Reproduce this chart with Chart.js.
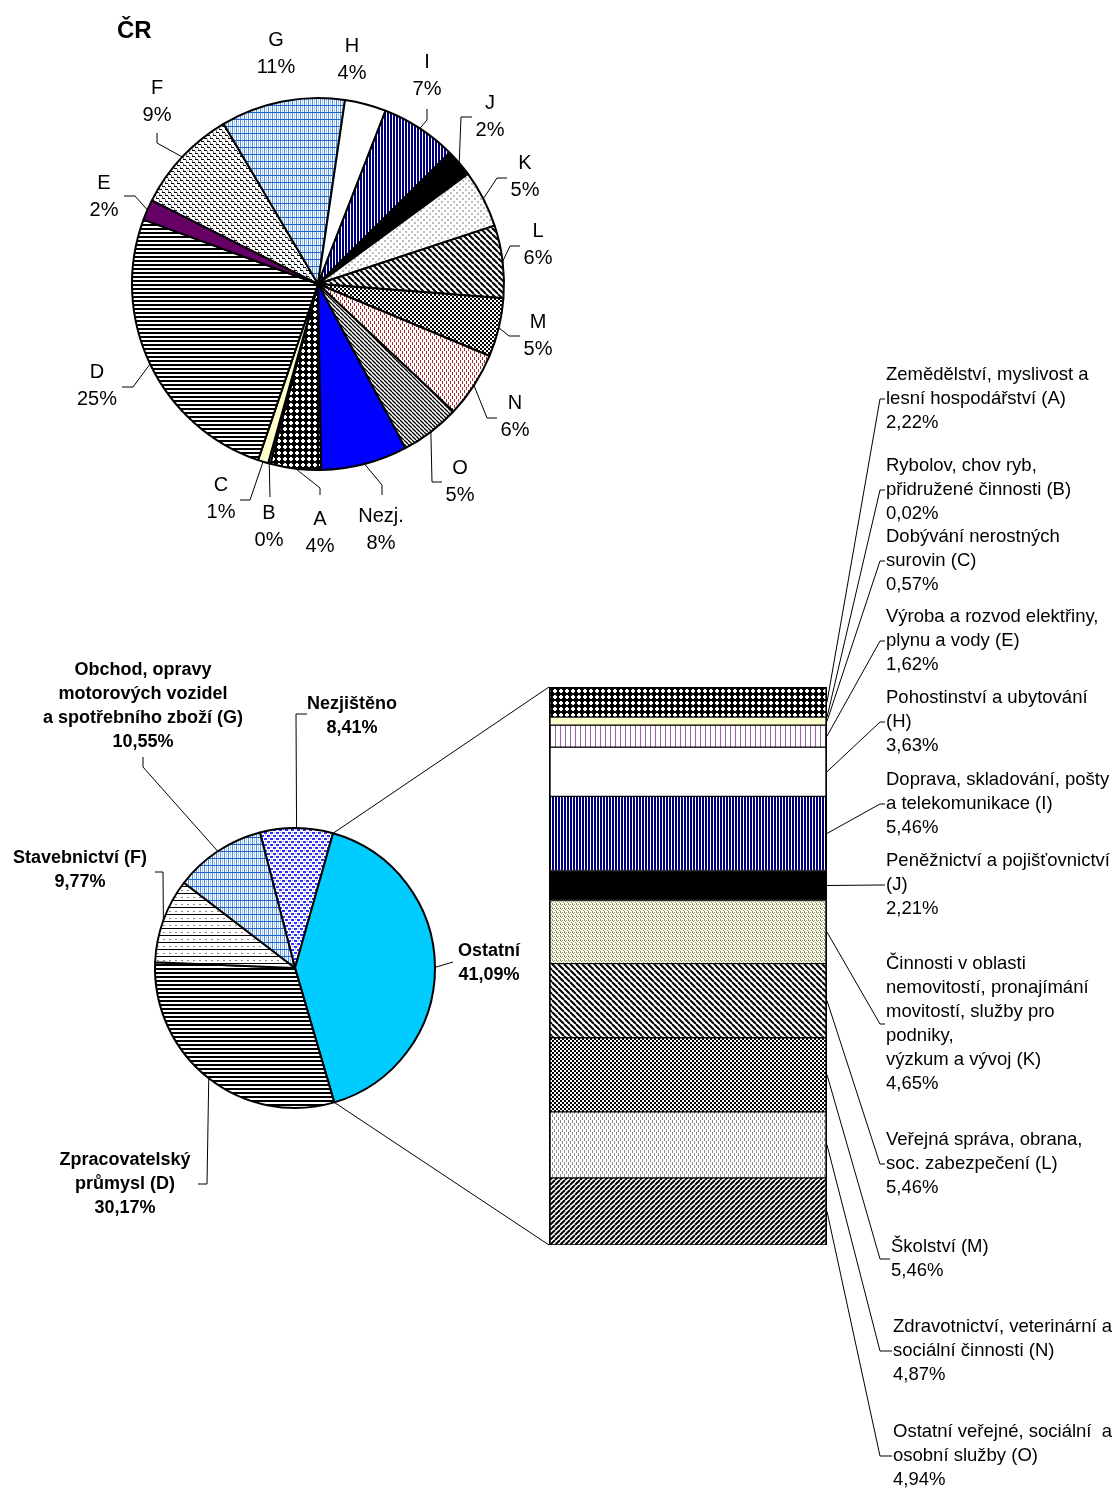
<!DOCTYPE html>
<html>
<head>
<meta charset="utf-8">
<script src="https://cdn.jsdelivr.net/npm/chart.js@4/dist/chart.umd.min.js"></script>
<style>
  body { margin: 0; background: #fff; }
  #wrap { position: relative; width: 1117px; height: 1490px; overflow: hidden; }
  canvas { position: absolute; left: 0; }
</style>
</head>
<body>
<div id="wrap">
  <canvas id="topPie" width="1117" height="600" style="top:0"></canvas>
  <canvas id="bottomPie" width="1117" height="1150" style="top:340px"></canvas>
  <canvas id="bar" width="1117" height="1150" style="top:340px"></canvas>
</div>
<script>
// ---- data ----
const topCats = ['A', 'B', 'C', 'D', 'E', 'F', 'G', 'H', 'I', 'J', 'K', 'L', 'M', 'N', 'O', 'Nezj.'];
const topValues = [4.4, 0.2, 0.9, 25.4, 1.8, 9.1, 10.8, 3.6, 6.6, 2.4, 5.0, 6.3, 5.1, 5.7, 5.2, 7.5];

const pieCats = ['Nezjištěno', 'Ostatní', 'Zpracovatelský průmysl (D)', 'Stavebnictví (F)',
  'Obchod, opravy motorových vozidel a spotřebního zboží (G)'];
const pieLines = [
  ['Nezjištěno'],
  ['Ostatní'],
  ['Zpracovatelský', 'průmysl (D)'],
  ['Stavebnictví (F)'],
  ['Obchod, opravy', 'motorových vozidel', 'a spotřebního zboží (G)']
];
const pieValues = [8.41, 41.09, 30.17, 9.77, 10.55];

const barCats = ['A', 'B', 'C', 'E', 'H', 'I', 'J', 'K', 'L', 'M', 'N', 'O'];
const barValues = [2.22, 0.02, 0.57, 1.62, 3.63, 5.46, 2.21, 4.65, 5.46, 5.46, 4.87, 4.94];
const barLines = [
  ['Zemědělství, myslivost a', 'lesní hospodářství (A)'],
  ['Rybolov, chov ryb,', 'přidružené činnosti (B)'],
  ['Dobývání nerostných', 'surovin (C)'],
  ['Výroba a rozvod elektřiny,', 'plynu a vody (E)'],
  ['Pohostinství a ubytování', '(H)'],
  ['Doprava, skladování, pošty', 'a telekomunikace (I)'],
  ['Peněžnictví a pojišťovnictví', '(J)'],
  ['Činnosti v oblasti', 'nemovitostí, pronajímání', 'movitostí, služby pro', 'podniky,', 'výzkum a vývoj (K)'],
  ['Veřejná správa, obrana,', 'soc. zabezpečení (L)'],
  ['Školství (M)'],
  ['Zdravotnictví, veterinární a', 'sociální činnosti (N)'],
  ['Ostatní veřejné, sociální  a', 'osobní služby (O)']
];

// ---- patterns ----
function pattern(w, h, bg, draw) {
  const c = document.createElement('canvas');
  c.width = w; c.height = h;
  const g = c.getContext('2d');
  g.fillStyle = bg;
  g.fillRect(0, 0, w, h);
  if (draw) draw(g);
  return g.createPattern(c, 'repeat');
}
function diag(g, size, width, color, down) {
  g.strokeStyle = color;
  g.lineWidth = width;
  g.beginPath();
  for (let k = -size; k <= size; k += size) {
    if (down) { g.moveTo(k, 0); g.lineTo(k + size, size); }
    else { g.moveTo(k, size); g.lineTo(k + size, 0); }
  }
  g.stroke();
}
const P = {
  whiteDots: pattern(6, 6, '#000', g => { g.fillStyle = '#fff'; g.fillRect(1, 2, 4, 2); g.fillRect(2, 1, 2, 4); }),
  hLines: pattern(1, 4, '#fff', g => { g.fillStyle = '#000'; g.fillRect(0, 0, 1, 2); }),
  brick: pattern(6, 6, '#fff', g => {
    g.fillStyle = '#000'; g.fillRect(0, 0, 3, 1); g.fillRect(3, 3, 3, 1);
    g.fillStyle = '#777'; g.fillRect(3, 1, 1, 2); g.fillRect(0, 4, 1, 2);
  }),
  blueGrid: pattern(4, 7, '#fff', g => {
    g.fillStyle = '#a9cbf3'; g.fillRect(2, 0, 1, 7);
    g.fillStyle = '#4f8fe3'; g.fillRect(0, 0, 1, 7);
    g.fillStyle = '#1e63c9'; g.fillRect(0, 0, 4, 1);
  }),
  navyV: pattern(3, 1, '#fff', g => { g.fillStyle = '#00007f'; g.fillRect(0, 0, 2, 1); }),
  greyLattice: pattern(6, 6, '#fff', g => { g.fillStyle = '#bdbdbd'; g.fillRect(0, 0, 2, 2); g.fillRect(3, 3, 2, 2); }),
  oliveLattice: pattern(4, 4, '#fffff0', g => {
    g.fillStyle = '#8f8f62';
    g.fillRect(0, 0, 1, 1); g.fillRect(2, 0, 1, 1); g.fillRect(1, 1, 1, 1);
    g.fillRect(3, 2, 1, 1); g.fillRect(0, 3, 1, 1);
  }),
  diagDown: pattern(6, 6, '#fff', g => diag(g, 6, 2, '#000', true)),
  diagDownFine: pattern(4, 4, '#fff', g => diag(g, 4, 1.3, '#000', true)),
  diagUp: pattern(5, 5, '#fff', g => diag(g, 5, 2, '#000', false)),
  checker: pattern(4, 4, '#fff', g => { g.fillStyle = '#000'; g.fillRect(0, 0, 2, 2); g.fillRect(2, 2, 2, 2); }),
  redDash: pattern(4, 6, '#fff', g => { g.fillStyle = '#a52a2a'; g.fillRect(0, 0, 1, 3); g.fillRect(2, 3, 1, 3); }),
  greyDash: pattern(4, 6, '#fff', g => { g.fillStyle = '#8a8a8a'; g.fillRect(0, 0, 1, 3); g.fillRect(2, 3, 1, 3); }),
  purpleV: pattern(5, 1, '#fff', g => { g.fillStyle = '#9a66a8'; g.fillRect(0, 0, 1, 1); }),
  blueDash: pattern(6, 6, '#fff', g => {
    g.fillStyle = '#2f2ff5'; g.fillRect(0, 0, 3, 2); g.fillRect(3, 3, 3, 2);
    g.fillStyle = '#8d8dff'; g.fillRect(4, 0, 1, 1); g.fillRect(1, 3, 1, 1);
  }),
  dotLines: pattern(6, 7, '#fff', g => { g.fillStyle = '#000'; g.fillRect(0, 0, 6, 1); g.fillStyle = '#888'; g.fillRect(1, 4, 2, 1); })
};

const topFills = [P.whiteDots, '#ccffff', '#ffffcc', P.hLines, '#660066', P.brick, P.blueGrid, '#ffffff',
  P.navyV, '#000000', P.greyLattice, P.diagDown, P.checker, P.redDash, P.diagDownFine, '#0000ff'];
const pieFills = [P.blueDash, '#00ccff', P.hLines, P.dotLines, P.blueGrid];
const barFills = [P.whiteDots, '#ccffff', '#ffffcc', P.purpleV, '#ffffff', P.navyV, '#000000',
  P.oliveLattice, P.diagDown, P.checker, P.greyDash, P.diagUp];

// ---- label layout ----
const FONT = '"Liberation Sans", Arial, sans-serif';
const topLabelPos = {
  'A': { x: 320, y: 519, lead: [[320, 495], [320, 488]] },
  'B': { x: 269, y: 513, lead: [[270, 497]] },
  'C': { x: 221, y: 485, lead: [[240, 500], [250, 500]] },
  'D': { x: 97, y: 372, lead: [[122, 387], [133, 387]] },
  'E': { x: 104, y: 183, lead: [[124, 196], [135, 196]] },
  'F': { x: 157, y: 88, lead: [[157, 133], [157, 143]] },
  'G': { x: 276, y: 40 },
  'H': { x: 352, y: 46 },
  'I': { x: 427, y: 62, lead: [[427, 109], [427, 120]] },
  'J': { x: 490, y: 103, lead: [[472, 117], [461, 117]] },
  'K': { x: 525, y: 163, lead: [[507, 178], [497, 178]] },
  'L': { x: 538, y: 231, lead: [[520, 246], [510, 246]] },
  'M': { x: 538, y: 322, lead: [[520, 336], [509, 336]] },
  'N': { x: 515, y: 403, lead: [[497, 418], [487, 418]] },
  'O': { x: 460, y: 468, lead: [[442, 482], [432, 482]] },
  'Nezj.': { x: 381, y: 516, lead: [[382, 495], [382, 485]] }
};
// bottom section, page coordinates
const pieLabelPos = [
  { x: 352, y: 704, lead: [[307, 714], [296, 714]] },
  { x: 489, y: 951, lead: [[453, 962]] },
  { x: 125, y: 1160, lead: [[198, 1184], [207, 1184]] },
  { x: 80, y: 858, lead: [[155, 872], [163, 872]] },
  { x: 143, y: 670, lead: [[143, 757], [143, 767]] }
];
const barLabelPos = [
  { x: 886, y: 375, tick: 1 }, { x: 886, y: 466, tick: 1 }, { x: 886, y: 537, tick: 1 },
  { x: 886, y: 617, tick: 1 }, { x: 886, y: 698, tick: 1 }, { x: 886, y: 780, tick: 1 },
  { x: 886, y: 861, tick: 1 }, { x: 886, y: 964, tick: 2.5 }, { x: 886, y: 1140, tick: 1 },
  { x: 891, y: 1247, tick: 0.5 }, { x: 893, y: 1327, tick: 1 }, { x: 893, y: 1432, tick: 1 }
];
const BOTTOM_TOP = 340;

function czPct(v) { return v.toFixed(2).replace('.', ',') + '%'; }

function textBlock(ctx, lines, x, y, lh, font, align) {
  ctx.save();
  ctx.font = font;
  ctx.fillStyle = '#000';
  ctx.textAlign = align || 'center';
  ctx.textBaseline = 'middle';
  lines.forEach((t, i) => ctx.fillText(t, x, y + i * lh));
  ctx.restore();
}
function polyline(ctx, pts) {
  ctx.save();
  ctx.strokeStyle = '#000';
  ctx.lineWidth = 1;
  ctx.beginPath();
  pts.forEach((p, i) => i ? ctx.lineTo(p[0], p[1]) : ctx.moveTo(p[0], p[1]));
  ctx.stroke();
  ctx.restore();
}
function edgePoint(arc, angle) {
  const p = arc.getProps(['x', 'y', 'startAngle', 'endAngle', 'outerRadius'], true);
  const a = angle === undefined ? (p.startAngle + p.endAngle) / 2 : p[angle];
  return [p.x + p.outerRadius * Math.cos(a), p.y + p.outerRadius * Math.sin(a)];
}

const baseOptions = {
  responsive: false,
  animation: false,
  events: [],
  plugins: { legend: { display: false }, tooltip: { enabled: false } }
};

// ---- top pie (ČR) ----
const topTotal = topValues.reduce((a, b) => a + b, 0);
new Chart(document.getElementById('topPie'), {
  type: 'pie',
  data: {
    labels: topCats,
    datasets: [{ data: topValues, backgroundColor: topFills, borderColor: '#000', borderWidth: 2 }]
  },
  options: {
    ...baseOptions,
    rotation: 179,
    radius: 186,
    layout: { padding: { left: 118, top: 84, right: 599, bottom: 116 } }
  },
  plugins: [{
    id: 'topLabels',
    afterDatasetsDraw(chart) {
      const ctx = chart.ctx;
      const arcs = chart.getDatasetMeta(0).data;
      textBlock(ctx, ['ČR'], 117, 31, 0, 'bold 24px ' + FONT, 'left');
      topCats.forEach((cat, i) => {
        const pos = topLabelPos[cat];
        const pct = Math.round(topValues[i] / topTotal * 100) + '%';
        textBlock(ctx, [cat, pct], pos.x, pos.y, 27, '20px ' + FONT);
        if (pos.lead) polyline(ctx, [...pos.lead, edgePoint(arcs[i])]);
      });
    }
  }]
});

// ---- bottom pie ----
// pie centre at page (295, 968), radius 140
const pieChart = new Chart(document.getElementById('bottomPie'), {
  type: 'pie',
  data: {
    labels: pieCats,
    datasets: [{ data: pieValues, backgroundColor: pieFills, borderColor: '#000', borderWidth: 2 }]
  },
  options: {
    ...baseOptions,
    rotation: -14.5,
    radius: 140,
    layout: { padding: { left: 135, top: 468, right: 662, bottom: 362 } }
  },
  plugins: [{
    id: 'pieLabels',
    afterDatasetsDraw(chart) {
      const ctx = chart.ctx;
      const arcs = chart.getDatasetMeta(0).data;
      pieLines.forEach((lines, i) => {
        const pos = pieLabelPos[i];
        textBlock(ctx, [...lines, czPct(pieValues[i])], pos.x, pos.y - BOTTOM_TOP, 24, 'bold 18px ' + FONT);
        const lead = pos.lead.map(p => [p[0], p[1] - BOTTOM_TOP]);
        polyline(ctx, [...lead, edgePoint(arcs[i])]);
      });
    }
  }]
});

// ---- stacked bar of "Ostatní" (page x 549..827, y 687..1245) ----
const barTotal = barValues.reduce((a, b) => a + b, 0);
new Chart(document.getElementById('bar'), {
  type: 'bar',
  data: {
    labels: ['Ostatní'],
    datasets: barCats.map((c, i) => ({
      label: c,
      data: [barValues[i]],
      backgroundColor: barFills[i],
      borderColor: '#000',
      borderWidth: { top: 1, bottom: 1, left: 2, right: 2 },
      borderSkipped: false,
      barPercentage: 1,
      categoryPercentage: 1
    }))
  },
  options: {
    ...baseOptions,
    layout: { padding: { left: 549, right: 290, top: 347, bottom: 245 } },
    scales: {
      x: { stacked: true, display: false },
      y: { stacked: true, display: false, reverse: true, min: 0, max: barTotal }
    }
  },
  plugins: [{
    id: 'barLabels',
    afterDatasetsDraw(chart) {
      const ctx = chart.ctx;
      let left = 0, right = 0, top = Infinity, bottom = -Infinity;
      barCats.forEach((c, i) => {
        const el = chart.getDatasetMeta(i).data[0];
        const p = el.getProps(['x', 'y', 'base', 'width'], true);
        left = p.x - p.width / 2;
        right = p.x + p.width / 2;
        top = Math.min(top, p.y, p.base);
        bottom = Math.max(bottom, p.y, p.base);
        const mid = (p.y + p.base) / 2;
        const pos = barLabelPos[i];
        const y0 = pos.y - BOTTOM_TOP;
        textBlock(ctx, [...barLines[i], czPct(barValues[i])], pos.x, y0, 24, '18.5px ' + FONT, 'left');
        const ty = y0 + pos.tick * 24;
        polyline(ctx, [[right, mid], [880, ty], [pos.x - 1, ty]]);
      });
      // connectors from the "Ostatní" slice to the bar
      const arc = pieChart.getDatasetMeta(0).data[1];
      polyline(ctx, [edgePoint(arc, 'startAngle'), [left, top]]);
      polyline(ctx, [edgePoint(arc, 'endAngle'), [left, bottom]]);
    }
  }]
});
</script>
</body>
</html>
